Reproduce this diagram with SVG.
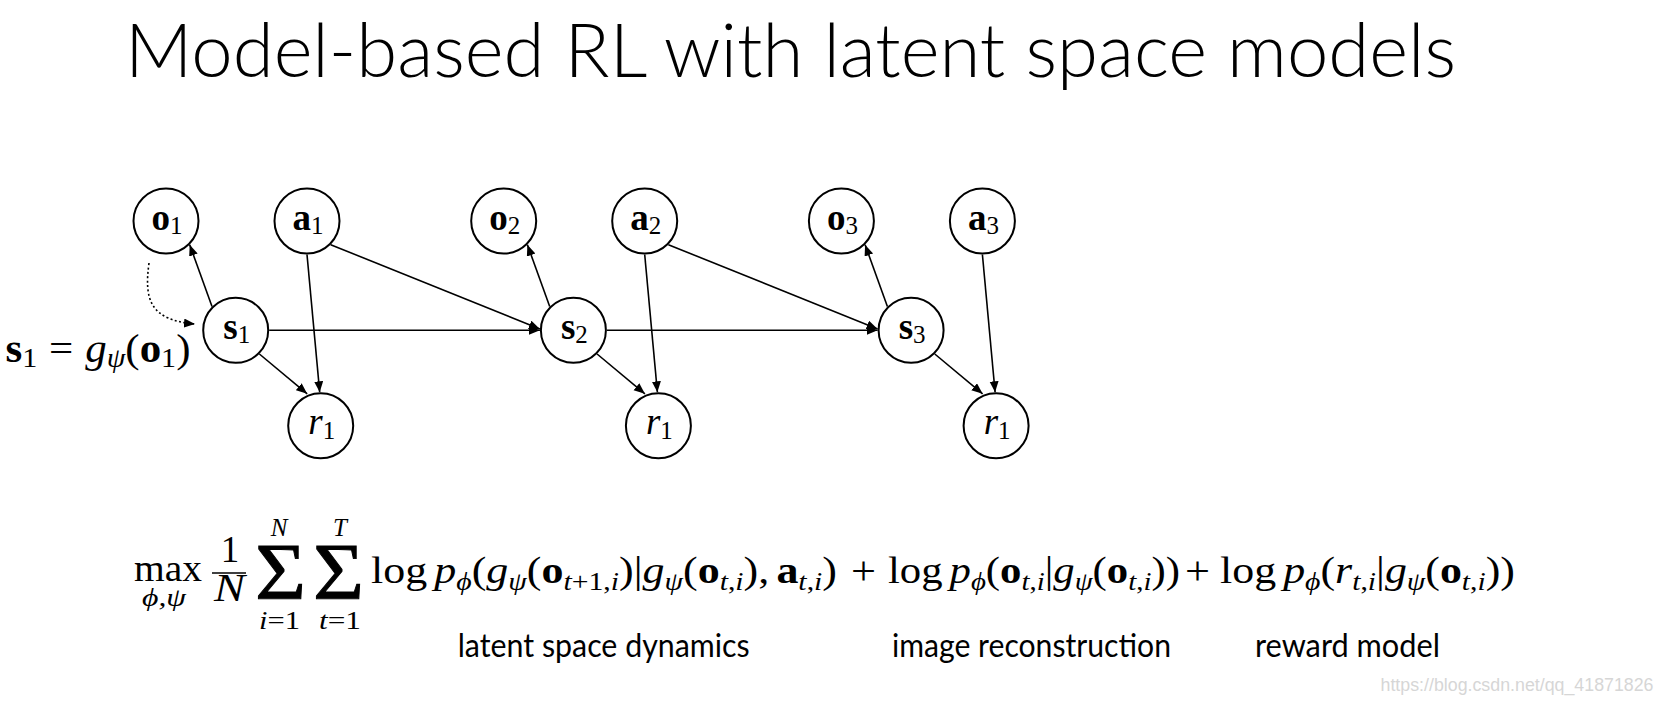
<svg xmlns="http://www.w3.org/2000/svg" width="1665" height="705" viewBox="0 0 1665 705">
<style>
.title{font-family:Lato,"Open Sans","Liberation Sans",sans-serif;font-weight:300;font-size:74px;fill:#000}
.cap{font-family:Lato,"Open Sans","Liberation Sans",sans-serif;font-weight:400;font-size:32px;fill:#000}
.wm{font-family:"Liberation Sans",Arial,sans-serif;font-size:18px;fill:#d6d6d6}
.nd circle{fill:#fff;stroke:#000;stroke-width:2}
.m{font-family:"Liberation Serif","DejaVu Serif",serif;font-size:37px;fill:#000}
.b{font-weight:bold}
.i{font-style:italic}
.s{font-size:25px}
.big{font-size:80px;stroke:#000;stroke-width:0.9}
.edge{fill:none;stroke:#000;stroke-width:1.6}
.dot{fill:none;stroke:#000;stroke-width:1.6;stroke-dasharray:2 2.4}
</style>
<defs>
<marker id="ah" markerUnits="userSpaceOnUse" markerWidth="12" markerHeight="10" refX="11" refY="4.5" orient="auto">
<path d="M0,0 L11,4.5 L0,9 z" fill="#000"/>
</marker>
</defs>
<rect width="1665" height="705" fill="#fff"/>
<text class="title" x="125" y="76.5" textLength="1331" lengthAdjust="spacingAndGlyphs">Model-based RL with latent space models</text>

<g id="connectors">
<path class="edge" marker-end="url(#ah)" d="M212,306.6 L189.7,244.7"/>
<path class="edge" marker-end="url(#ah)" d="M549.7,306.6 L527.4,244.7"/>
<path class="edge" marker-end="url(#ah)" d="M887.4,306.6 L865.1,244.7"/>
<path class="edge" marker-end="url(#ah)" d="M307,254.5 L319.7,392.3"/>
<path class="edge" marker-end="url(#ah)" d="M644.7,254.5 L657.4,392.3"/>
<path class="edge" marker-end="url(#ah)" d="M982.4,254.5 L995.1,392.3"/>
<path class="edge" marker-end="url(#ah)" d="M330.7,244.7 L539.9,329"/>
<path class="edge" marker-end="url(#ah)" d="M668.4,244.7 L877.6,329"/>
<path class="edge" marker-end="url(#ah)" d="M269.2,330.3 L539.9,330.3"/>
<path class="edge" marker-end="url(#ah)" d="M606.9,330.3 L877.6,330.3"/>
<path class="edge" marker-end="url(#ah)" d="M259.4,354 L307.2,393.8"/>
<path class="edge" marker-end="url(#ah)" d="M597.1,354 L644.9,393.8"/>
<path class="edge" marker-end="url(#ah)" d="M934.8,354 L982.6,393.8"/>
<path class="dot" marker-end="url(#ah)" d="M149,263 C144,300 150,320 195,324"/>
</g>

<g id="o1" class="nd"><circle cx="166" cy="221" r="32.5"/><text class="m" x="167" y="229.5" text-anchor="middle"><tspan class="b">o</tspan><tspan class="s" dy="4.5">1</tspan></text></g>
<g id="a1" class="nd"><circle cx="307" cy="221" r="32.5"/><text class="m" x="308" y="229.5" text-anchor="middle"><tspan class="b">a</tspan><tspan class="s" dy="4.5">1</tspan></text></g>
<g id="o2" class="nd"><circle cx="503.7" cy="221" r="32.5"/><text class="m" x="504.7" y="229.5" text-anchor="middle"><tspan class="b">o</tspan><tspan class="s" dy="4.5">2</tspan></text></g>
<g id="a2" class="nd"><circle cx="644.7" cy="221" r="32.5"/><text class="m" x="645.7" y="229.5" text-anchor="middle"><tspan class="b">a</tspan><tspan class="s" dy="4.5">2</tspan></text></g>
<g id="o3" class="nd"><circle cx="841.4" cy="221" r="32.5"/><text class="m" x="842.4" y="229.5" text-anchor="middle"><tspan class="b">o</tspan><tspan class="s" dy="4.5">3</tspan></text></g>
<g id="a3" class="nd"><circle cx="982.4" cy="221" r="32.5"/><text class="m" x="983.4" y="229.5" text-anchor="middle"><tspan class="b">a</tspan><tspan class="s" dy="4.5">3</tspan></text></g>
<g id="s1" class="nd"><circle cx="235.7" cy="330.3" r="32.5"/><text class="m" x="236.7" y="338.8" text-anchor="middle"><tspan class="b">s</tspan><tspan class="s" dy="4.5">1</tspan></text></g>
<g id="s2" class="nd"><circle cx="573.4" cy="330.3" r="32.5"/><text class="m" x="574.4" y="338.8" text-anchor="middle"><tspan class="b">s</tspan><tspan class="s" dy="4.5">2</tspan></text></g>
<g id="s3" class="nd"><circle cx="911.1" cy="330.3" r="32.5"/><text class="m" x="912.1" y="338.8" text-anchor="middle"><tspan class="b">s</tspan><tspan class="s" dy="4.5">3</tspan></text></g>
<g id="r1a" class="nd"><circle cx="320.7" cy="425.8" r="32.5"/><text class="m" x="321.7" y="434.3" text-anchor="middle"><tspan class="i">r</tspan><tspan class="s" dy="4.5">1</tspan></text></g>
<g id="r1b" class="nd"><circle cx="658.4" cy="425.8" r="32.5"/><text class="m" x="659.4" y="434.3" text-anchor="middle"><tspan class="i">r</tspan><tspan class="s" dy="4.5">1</tspan></text></g>
<g id="r1c" class="nd"><circle cx="996.1" cy="425.8" r="32.5"/><text class="m" x="997.1" y="434.3" text-anchor="middle"><tspan class="i">r</tspan><tspan class="s" dy="4.5">1</tspan></text></g>

<g id="s1-label">
<text class="m" style="font-size:40px" x="5.5" y="362" textLength="185" lengthAdjust="spacingAndGlyphs"><tspan class="b">s</tspan><tspan style="font-size:28px" dy="5">1</tspan><tspan dx="11" dy="-5">=</tspan><tspan class="i" dx="11">g</tspan><tspan class="i" style="font-size:28px" dy="5">ψ</tspan><tspan dy="-5">(</tspan><tspan class="b">o</tspan><tspan style="font-size:28px" dy="5">1</tspan><tspan dy="-5">)</tspan></text>
</g>

<g id="equation">
<text class="m" x="134" y="581" textLength="68" lengthAdjust="spacingAndGlyphs">max</text>
<text class="m s i" x="142" y="606" textLength="44" lengthAdjust="spacingAndGlyphs">ϕ,ψ</text>
<text class="m" x="230" y="562" text-anchor="middle">1</text>
<line x1="212" y1="573" x2="246" y2="573" stroke="#000" stroke-width="1.6"/>
<text class="m i" style="font-size:40px" x="214" y="601" textLength="31" lengthAdjust="spacingAndGlyphs">N</text>
<text class="m big" x="255" y="599" textLength="51" lengthAdjust="spacingAndGlyphs">Σ</text>
<text class="m big" x="313" y="599" textLength="51" lengthAdjust="spacingAndGlyphs">Σ</text>
<text class="m s i" x="279" y="536" text-anchor="middle">N</text>
<text class="m s i" x="340" y="536" text-anchor="middle">T</text>
<text class="m s" x="259" y="629" textLength="41" lengthAdjust="spacingAndGlyphs"><tspan class="i">i</tspan>=1</text>
<text class="m s" x="319" y="629" textLength="42" lengthAdjust="spacingAndGlyphs"><tspan class="i">t</tspan>=1</text>
<text class="m" x="371" y="583" textLength="466" lengthAdjust="spacingAndGlyphs">log<tspan class="i" dx="6">p</tspan><tspan class="s i" dy="7">ϕ</tspan><tspan dy="-7">(</tspan><tspan class="i">g</tspan><tspan class="s i" dy="7">ψ</tspan><tspan dy="-7">(</tspan><tspan class="b">o</tspan><tspan class="s" dy="7"><tspan class="i">t</tspan>+1,<tspan class="i">i</tspan></tspan><tspan dy="-7">)|</tspan><tspan class="i">g</tspan><tspan class="s i" dy="7">ψ</tspan><tspan dy="-7">(</tspan><tspan class="b">o</tspan><tspan class="s" dy="7"><tspan class="i">t</tspan>,<tspan class="i">i</tspan></tspan><tspan dy="-7">),</tspan><tspan class="b" dx="6">a</tspan><tspan class="s" dy="7"><tspan class="i">t</tspan>,<tspan class="i">i</tspan></tspan><tspan dy="-7">)</tspan></text>
<text class="m" style="font-size:40px" x="851" y="584" textLength="25" lengthAdjust="spacingAndGlyphs">+</text>
<text class="m" x="888" y="583" textLength="292" lengthAdjust="spacingAndGlyphs">log<tspan class="i" dx="6">p</tspan><tspan class="s i" dy="7">ϕ</tspan><tspan dy="-7">(</tspan><tspan class="b">o</tspan><tspan class="s" dy="7"><tspan class="i">t</tspan>,<tspan class="i">i</tspan></tspan><tspan dy="-7">|</tspan><tspan class="i">g</tspan><tspan class="s i" dy="7">ψ</tspan><tspan dy="-7">(</tspan><tspan class="b">o</tspan><tspan class="s" dy="7"><tspan class="i">t</tspan>,<tspan class="i">i</tspan></tspan><tspan dy="-7">))</tspan></text>
<text class="m" style="font-size:40px" x="1185" y="584" textLength="25" lengthAdjust="spacingAndGlyphs">+</text>
<text class="m" x="1220" y="583" textLength="295" lengthAdjust="spacingAndGlyphs">log<tspan class="i" dx="6">p</tspan><tspan class="s i" dy="7">ϕ</tspan><tspan dy="-7">(</tspan><tspan class="i">r</tspan><tspan class="s" dy="7"><tspan class="i">t</tspan>,<tspan class="i">i</tspan></tspan><tspan dy="-7">|</tspan><tspan class="i">g</tspan><tspan class="s i" dy="7">ψ</tspan><tspan dy="-7">(</tspan><tspan class="b">o</tspan><tspan class="s" dy="7"><tspan class="i">t</tspan>,<tspan class="i">i</tspan></tspan><tspan dy="-7">))</tspan></text>
</g>

<g id="captions">
<text class="cap" x="457.7" y="657" textLength="292" lengthAdjust="spacingAndGlyphs">latent space dynamics</text>
<text class="cap" x="892" y="657" textLength="279" lengthAdjust="spacingAndGlyphs">image reconstruction</text>
<text class="cap" x="1255" y="657" textLength="185" lengthAdjust="spacingAndGlyphs">reward model</text>
</g>
<text class="wm" x="1380.5" y="691" textLength="273" lengthAdjust="spacingAndGlyphs">https://blog.csdn.net/qq_41871826</text>
</svg>
